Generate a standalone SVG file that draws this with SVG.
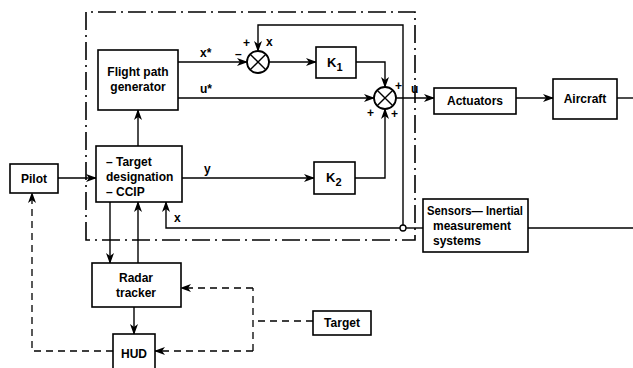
<svg xmlns="http://www.w3.org/2000/svg" width="633" height="368" viewBox="0 0 633 368">
<defs>
<marker id="ah" markerUnits="userSpaceOnUse" markerWidth="11" markerHeight="8" refX="10" refY="4" orient="auto">
<path d="M0,0 L11,4 L0,8 L3,4 z" fill="#000"/>
</marker>
<style>
.box{fill:#fff;stroke:#000;stroke-width:1.6}
.ln{fill:none;stroke:#000;stroke-width:1.4}
.dsh{fill:none;stroke:#000;stroke-width:1.3;stroke-dasharray:7 5}
.dd{fill:none;stroke:#000;stroke-width:1.6;stroke-dasharray:18 5 2 5}
.t{font-family:"Liberation Sans",Arial,sans-serif;font-weight:bold;font-size:12px;fill:#000}
.c{text-anchor:middle}
.s{font-family:"Liberation Sans",Arial,sans-serif;font-weight:bold;font-size:13px;fill:#000}
</style>
</defs>
<rect width="633" height="368" fill="#fff"/>
<g id="boundary">
<path class="dd" d="M86,240 L86,12 L415,12 L415,240 Z"/>
</g>
<g id="connectors">
<line class="ln" x1="178" y1="62" x2="247" y2="62" marker-end="url(#ah)"/>
<line class="ln" x1="178" y1="98" x2="374" y2="98" marker-end="url(#ah)"/>
<polyline class="ln" points="403,228 403,25 258,25 258,51" marker-end="url(#ah)"/>
<line class="ln" x1="269" y1="62" x2="316" y2="62" marker-end="url(#ah)"/>
<polyline class="ln" points="356,62 385,62 385,87" marker-end="url(#ah)"/>
<line class="ln" x1="396" y1="98" x2="434" y2="98" marker-end="url(#ah)"/>
<line class="ln" x1="516" y1="98" x2="553" y2="98" marker-end="url(#ah)"/>
<line class="ln" x1="617" y1="98" x2="633" y2="98"/>
<line class="ln" x1="58" y1="178" x2="96" y2="178" marker-end="url(#ah)"/>
<line class="ln" x1="138" y1="146" x2="138" y2="110" marker-end="url(#ah)"/>
<line class="ln" x1="182" y1="178" x2="314" y2="178" marker-end="url(#ah)"/>
<polyline class="ln" points="355,178 385,178 385,109" marker-end="url(#ah)"/>
<polyline class="ln" points="423,228 400,228" />
<polyline class="ln" points="400,228 166,228 166,202" marker-end="url(#ah)"/>
<circle cx="403" cy="228" r="3" fill="#fff" stroke="#000" stroke-width="1.3"/>
<line class="ln" x1="528" y1="228" x2="633" y2="228"/>
<line class="ln" x1="110" y1="202" x2="110" y2="263" marker-end="url(#ah)"/>
<line class="ln" x1="138" y1="263" x2="138" y2="202" marker-end="url(#ah)"/>
<line class="ln" x1="134" y1="307" x2="134" y2="334" marker-end="url(#ah)"/>
<line class="dsh" x1="313" y1="321" x2="253" y2="321"/>
<polyline class="dsh" points="253,351 253,288"/>
<line class="dsh" x1="253" y1="288" x2="181" y2="288" marker-end="url(#ah)"/>
<line class="dsh" x1="253" y1="351" x2="155" y2="351" marker-end="url(#ah)"/>
<polyline class="dsh" points="113,351 32,351 32,193" marker-end="url(#ah)"/>
</g>
<g id="fpg">
<rect class="box" x="98" y="50" width="80" height="60"/>
<text class="t c" x="138" y="76">Flight path</text>
<text class="t c" x="138" y="91">generator</text>
</g>
<g id="sum1">
<circle cx="258" cy="62" r="11" fill="#fff" stroke="#000" stroke-width="1.8"/>
<path class="ln" stroke-width="1.8" d="M250.2,54.2 L265.8,69.8 M265.8,54.2 L250.2,69.8"/>
</g>
<g id="k1">
<rect class="box" x="316" y="47" width="40" height="31"/>
<text class="s" x="327" y="67">K<tspan font-size="11" dy="4">1</tspan></text>
</g>
<g id="sum2">
<circle cx="385" cy="98" r="11" fill="#fff" stroke="#000" stroke-width="1.8"/>
<path class="ln" stroke-width="1.8" d="M377.2,90.2 L392.8,105.8 M392.8,90.2 L377.2,105.8"/>
</g>
<g id="actuators">
<rect class="box" x="434" y="88" width="82" height="26"/>
<text class="t c" x="475" y="105">Actuators</text>
</g>
<g id="aircraft">
<rect class="box" x="553" y="79" width="64" height="40"/>
<text class="t c" x="585" y="103">Aircraft</text>
</g>
<g id="pilot">
<rect class="box" x="10" y="164" width="48" height="29"/>
<text class="t c" x="34" y="183">Pilot</text>
</g>
<g id="target-designation">
<rect class="box" x="96" y="146" width="86" height="56"/>
<text class="t" x="106" y="166">– Target</text>
<text class="t" x="106" y="181">designation</text>
<text class="t" x="106" y="196">– CCIP</text>
</g>
<g id="k2">
<rect class="box" x="314" y="162" width="41" height="32"/>
<text class="s" x="326" y="182">K<tspan font-size="11" dy="4">2</tspan></text>
</g>
<g id="sensors">
<rect class="box" x="423" y="199" width="105" height="53"/>
<text class="t" x="427" y="215" textLength="96" lengthAdjust="spacingAndGlyphs">Sensors— Inertial</text>
<text class="t" x="433" y="230">measurement</text>
<text class="t" x="433" y="245">systems</text>
</g>
<g id="radar">
<rect class="box" x="92" y="263" width="89" height="44"/>
<text class="t c" x="136" y="282">Radar</text>
<text class="t c" x="136" y="297">tracker</text>
</g>
<g id="hud">
<rect class="box" x="113" y="334" width="42" height="40"/>
<text class="t c" x="134" y="358">HUD</text>
</g>
<g id="target">
<rect class="box" x="313" y="311" width="58" height="24"/>
<text class="t c" x="342" y="327">Target</text>
</g>
<g id="labels">
<text class="t" x="200" y="57">x*</text>
<text class="t" x="200" y="93">u*</text>
<text class="t" x="235" y="58">–</text>
<text class="t" x="243" y="47">+</text>
<text class="t" x="266" y="46">x</text>
<text class="t" x="395" y="90">+</text>
<text class="t" x="367" y="117">+</text>
<text class="t" x="391" y="118">+</text>
<text class="t" x="411" y="93">u</text>
<text class="t" x="204" y="173">y</text>
<text class="t" x="174" y="222">x</text>
</g>
</svg>
